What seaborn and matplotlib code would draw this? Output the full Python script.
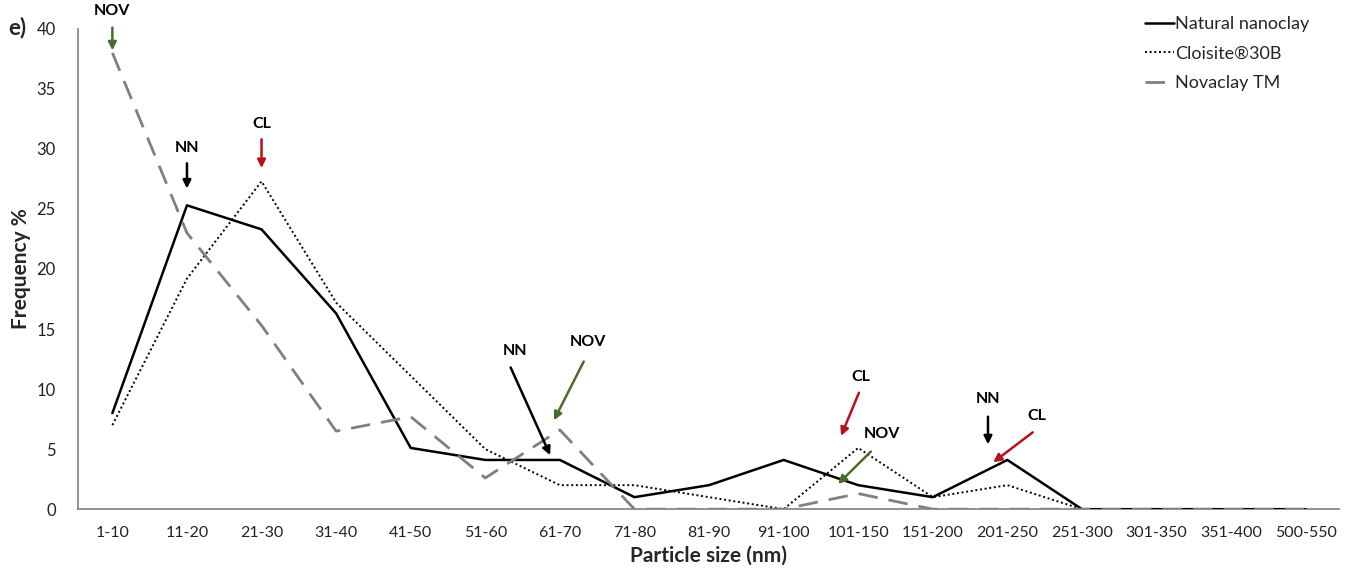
import matplotlib
matplotlib.use("Agg")
import matplotlib.pyplot as plt
import seaborn as sns
import pandas as pd
import numpy as np

sizes = ["1-10", "11-20", "21-30", "31-40", "41-50", "51-60", "61-70", "71-80",
         "81-90", "91-100", "101-150", "151-200", "201-250", "251-300",
         "301-350", "351-400", "500-550"]
natural_nanoclay = [8.0, 25.3, 23.3, 16.3, 5.1, 4.1, 4.1, 1.0, 2.0, 4.1, 2.0, 1.0, 4.1, 0, 0, 0, 0]
cloisite_30b = [7.0, 19.2, 27.3, 17.2, 11.1, 5.0, 2.0, 2.0, 1.0, 0, 5.1, 1.0, 2.0, 0, 0, 0, 0]
novaclay_tm = [38.0, 23.0, 15.3, 6.5, 7.7, 2.6, 6.6, 0, 0, 0, 1.3, 0, 0, 0, 0, 0, 0]

series_names = ["Natural nanoclay", "Cloisite\u00ae30B", "Novaclay TM"]

sns.set_theme(style="white")
plt.rcParams["font.family"] = ["Lato", "DejaVu Sans"]

idx = np.arange(len(sizes))
df = pd.DataFrame({
    "pos": np.tile(idx, 3),
    "freq": natural_nanoclay + cloisite_30b + novaclay_tm,
    "series": np.repeat(series_names, len(sizes)),
})

fig = plt.figure(figsize=(13.46, 5.76), dpi=100)
ax = fig.add_axes([0.058, 0.116, 0.937, 0.834])

palette = {series_names[0]: "black", series_names[1]: "black", series_names[2]: "#808080"}
widths = {series_names[0]: 1.8, series_names[1]: 1.4, series_names[2]: 2.0}
dashes = {series_names[0]: "", series_names[1]: (1, 1.4), series_names[2]: (7, 4)}

for name in series_names:
    sub = df[df["series"] == name]
    sns.lineplot(data=sub, x="pos", y="freq", ax=ax, color=palette[name],
                 linewidth=widths[name], dashes=False, label=name, zorder=3)
    line = ax.lines[-1]
    if dashes[name]:
        line.set_dashes(dashes[name])

ax.set_xlim(-0.46, 16.45)
ax.set_ylim(0, 40)
ax.set_xticks(idx)
ax.set_xticklabels(sizes, fontsize=11.5, color="#222222")
ax.set_yticks(range(0, 41, 5))
ax.tick_params(axis="y", labelsize=12, colors="#222222", length=0, pad=16)
ax.tick_params(axis="x", length=0, pad=12)
for s in ["top", "right"]:
    ax.spines[s].set_visible(False)
for s in ["left", "bottom"]:
    ax.spines[s].set_color("#7f7f7f")
    ax.spines[s].set_linewidth(1.2)
ax.set_xlabel("Particle size (nm)", fontsize=15, fontweight="bold", labelpad=4)
ax.set_ylabel("Frequency %", fontsize=15, fontweight="bold", labelpad=4)

ax.get_legend().remove()
handles = ax.lines[:3]
fig.legend(handles, series_names, loc="upper right", bbox_to_anchor=(0.985, 1.0),
           frameon=False, fontsize=13, handlelength=1.6, handletextpad=0.1,
           labelspacing=0.75)

fig.text(0.006, 0.94, "e)", fontsize=16, fontweight="bold")

green = "#4b6b2e"
red = "#b5121b"
marks = [
    ("NOV", green, (0, 40.9), (0, 40.1), (0, 38.2)),
    ("NN", "black", (1, 29.5), (1, 28.8), (1, 26.7)),
    ("CL", red, (2, 31.5), (2, 30.8), (2, 28.4)),
    ("NN", "black", (5.4, 12.6), (5.34, 11.8), (5.87, 4.5)),
    ("NOV", green, (6.38, 13.3), (6.32, 12.3), (5.92, 7.4)),
    ("CL", red, (10.04, 10.4), (10.01, 9.7), (9.77, 6.1)),
    ("NOV", green, (10.32, 5.65), (10.17, 4.8), (9.73, 2.1)),
    ("NN", "black", (11.74, 8.6), (11.74, 7.7), (11.74, 5.4)),
    ("CL", red, (12.4, 7.15), (12.34, 6.4), (11.81, 3.9)),
]
for label, col, tpos, tail, head in marks:
    ax.text(tpos[0], tpos[1], label, ha="center", va="bottom", fontsize=11.5,
            fontweight="bold", color="black", zorder=5)
    ax.annotate("", xy=head, xytext=tail,
                arrowprops=dict(arrowstyle="-|>", color=col, lw=1.8,
                                mutation_scale=12, shrinkA=0, shrinkB=0),
                zorder=5, annotation_clip=False)

fig.savefig("out.png", dpi=100)
